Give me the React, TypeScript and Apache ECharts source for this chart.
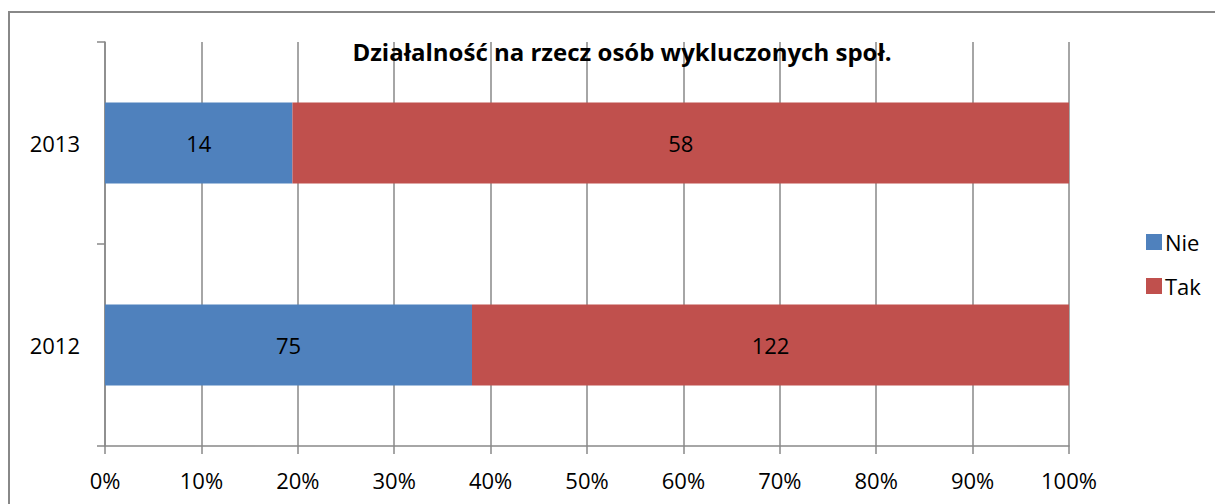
import React, { useEffect, useRef } from "react";
import * as echarts from "echarts";

const categories = ["2012", "2013"];
const nieValues = [75, 14];
const takValues = [122, 58];
const xTicks = [0, 10, 20, 30, 40, 50, 60, 70, 80, 90, 100];
const titleText = "Działalność na rzecz osób wykluczonych społ.";

const FONT = "Open Sans";

export default function App() {
  const ref = useRef<HTMLDivElement>(null);
  useEffect(() => {
    document.body.style.margin = "0";
    const chart = echarts.init(ref.current!, null, { renderer: "svg" });
    const totals = categories.map((_, i) => nieValues[i] + takValues[i]);
    const mk = (vals: number[]) =>
      vals.map((v, i) => ({ value: (v / totals[i]) * 100, raw: v }));
    chart.setOption({
      animation: false,
      backgroundColor: "#ffffff",
      textStyle: { fontFamily: FONT },
      title: {
        text: titleText,
        left: 617,
        textAlign: "center",
        top: 34,
        textStyle: { fontFamily: FONT, fontSize: 24, fontWeight: "bold", color: "#000" },
      },
      legend: {
        orient: "vertical",
        left: 1141,
        top: 226,
        itemWidth: 16,
        itemHeight: 16,
        itemGap: 22,
        icon: "rect",
        textStyle: { fontFamily: FONT, fontSize: 22, color: "#000", padding: [0, 0, 0, -2] },
        data: ["Nie", "Tak"],
      },
      graphic: [
        {
          type: "rect",
          shape: { x: 9, y: 12, width: 1230, height: 520 },
          style: { fill: "none", stroke: "#888888", lineWidth: 2 },
          silent: true,
        },
      ],
      grid: { left: 105, top: 42, right: 146, bottom: 58, containLabel: false },
      xAxis: {
        type: "value",
        min: xTicks[0],
        max: xTicks[xTicks.length - 1],
        interval: xTicks[1] - xTicks[0],
        axisLine: { show: true, lineStyle: { color: "#888888", width: 1.5 } },
        axisTick: { show: true, length: 8, lineStyle: { color: "#888888", width: 1.5 } },
        splitLine: { show: true, lineStyle: { color: "#888888", width: 1.5 } },
        axisLabel: {
          formatter: "{value}%",
          fontFamily: FONT,
          fontSize: 22,
          color: "#000",
          margin: 23,
        },
      },
      yAxis: {
        type: "category",
        data: categories,
        axisLine: { show: true, lineStyle: { color: "#888888", width: 1.5 } },
        axisTick: { show: true, length: 8, lineStyle: { color: "#888888", width: 1.5 } },
        axisLabel: { fontFamily: FONT, fontSize: 22, color: "#000", margin: 25 },
        splitLine: { show: false },
      },
      series: [
        {
          name: "Nie",
          type: "bar",
          stack: "total",
          barWidth: "40%",
          itemStyle: { color: "#4F81BD" },
          label: {
            show: true,
            position: "inside",
            fontFamily: FONT,
            fontSize: 22,
            color: "#000",
            formatter: (p: any) => String(p.data.raw),
          },
          data: mk(nieValues),
        },
        {
          name: "Tak",
          type: "bar",
          stack: "total",
          barWidth: "40%",
          itemStyle: { color: "#C0504D" },
          label: {
            show: true,
            position: "inside",
            fontFamily: FONT,
            fontSize: 22,
            color: "#000",
            formatter: (p: any) => String(p.data.raw),
          },
          data: mk(takValues),
        },
      ],
    });
    return () => chart.dispose();
  }, []);
  return <div ref={ref} style={{ width: 1215, height: 504 }} />;
}
